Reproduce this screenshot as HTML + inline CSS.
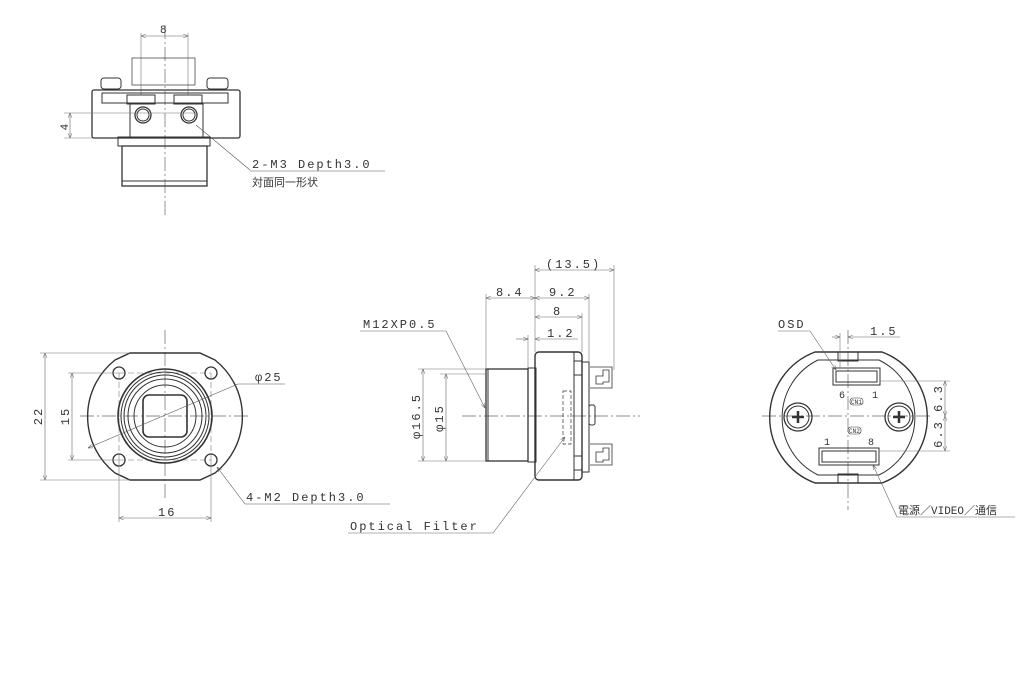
<!DOCTYPE html>
<html><head><meta charset="utf-8"><style>
html,body{margin:0;padding:0;background:#fff;}
svg{display:block}
text{font-family:"Liberation Mono","Noto Sans CJK JP",monospace;fill:#333;font-size:12px;letter-spacing:2px}
</style></head><body>
<svg width="1030" height="700" viewBox="0 0 1030 700" xmlns="http://www.w3.org/2000/svg">
<defs>
<marker id="a" viewBox="0 0 10 10" refX="10" refY="5" markerWidth="8" markerHeight="8" orient="auto-start-reverse"><path d="M0,1 L10,5 L0,9" fill="none" stroke="#555" stroke-width="1"/></marker>
</defs>
<g fill="none" stroke="#333" stroke-width="1">
<!-- TOP VIEW -->
<g stroke="#666" stroke-width="0.7" stroke-dasharray="14,3,2,3"><line x1="165" y1="25" x2="165" y2="218"/></g>
<line x1="141" y1="33" x2="141" y2="95" stroke="#777" stroke-width="0.6"/>
<line x1="188" y1="33" x2="188" y2="95" stroke="#777" stroke-width="0.6"/>
<line x1="141" y1="36" x2="188" y2="36" stroke="#666" stroke-width="0.6" marker-start="url(#a)" marker-end="url(#a)"/>
<rect x="132" y="58" width="63" height="27" stroke-width="0.7"/>
<rect x="101" y="78" width="20" height="11" rx="3"/>
<rect x="207" y="78" width="21" height="11" rx="3"/>
<rect x="92" y="90" width="148" height="48" rx="2" stroke-width="1.3"/>
<rect x="102" y="93" width="126" height="10"/>
<rect x="127" y="95" width="28" height="9"/><rect x="174" y="95" width="28" height="9"/>
<line x1="130" y1="103" x2="130" y2="138"/><line x1="203" y1="103" x2="203" y2="138"/>
<circle cx="143" cy="115" r="8" stroke-width="1.3"/><circle cx="143" cy="115" r="6"/>
<circle cx="189" cy="115" r="8" stroke-width="1.3"/><circle cx="189" cy="115" r="6"/>
<line x1="64" y1="113" x2="196" y2="113" stroke="#777" stroke-width="0.6"/>
<line x1="64" y1="138" x2="92" y2="138" stroke="#777" stroke-width="0.6"/>
<line x1="70" y1="113" x2="70" y2="138" stroke="#666" stroke-width="0.6" marker-start="url(#a)" marker-end="url(#a)"/>
<text x="68" y="126" transform="rotate(-90 68 126)" text-anchor="middle" stroke="none" style="font-size:11px">4</text>
<rect x="118" y="137" width="92" height="9"/>
<rect x="122" y="146" width="85" height="40" stroke-width="1.3"/>
<line x1="122" y1="181" x2="207" y2="181"/>
<line x1="196" y1="125" x2="250" y2="170" stroke="#555" stroke-width="0.6"/>
<line x1="250" y1="171" x2="385" y2="171" stroke="#555" stroke-width="0.6"/>

<!-- FRONT VIEW -->
<g stroke="#666" stroke-width="0.7" stroke-dasharray="14,3,2,3">
<line x1="165" y1="330" x2="165" y2="500"/><line x1="80" y1="416" x2="250" y2="416"/></g>
<g stroke="#777" stroke-width="0.6" stroke-dasharray="6,3">
<line x1="119" y1="373" x2="119" y2="460"/><line x1="211" y1="373" x2="211" y2="460"/>
<line x1="119" y1="373" x2="211" y2="373"/><line x1="119" y1="460" x2="211" y2="460"/></g>
<path d="M130,353 L200,353 L215,360 A72 72 0 0 1 215 473 L200,480 L130,480 L115,473 A72 72 0 0 1 115 360 Z" stroke-width="1.4"/>
<circle cx="165" cy="416" r="47" stroke-width="1.6"/>
<circle cx="165" cy="416" r="44"/><circle cx="165" cy="416" r="41"/><circle cx="165" cy="416" r="37"/><circle cx="165" cy="416" r="31"/>
<rect x="143" y="395" width="44" height="42" rx="6" stroke-width="1.6"/>
<circle cx="119" cy="373" r="6" stroke-width="1.3"/><circle cx="211" cy="373" r="6" stroke-width="1.3"/>
<circle cx="119" cy="460" r="6" stroke-width="1.3"/><circle cx="211" cy="460" r="6" stroke-width="1.3"/>
<g stroke="#777" stroke-width="0.6">
<line x1="40" y1="353" x2="130" y2="353"/><line x1="40" y1="480" x2="130" y2="480"/>
<line x1="68" y1="373" x2="119" y2="373"/><line x1="68" y1="460" x2="119" y2="460"/>
<line x1="119" y1="460" x2="119" y2="522"/><line x1="211" y1="460" x2="211" y2="522"/></g>
<line x1="45" y1="353" x2="45" y2="480" stroke="#666" stroke-width="0.6" marker-start="url(#a)" marker-end="url(#a)"/>
<line x1="72" y1="373" x2="72" y2="460" stroke="#666" stroke-width="0.6" marker-start="url(#a)" marker-end="url(#a)"/>
<line x1="119" y1="518" x2="211" y2="518" stroke="#666" stroke-width="0.6" marker-start="url(#a)" marker-end="url(#a)"/>
<line x1="238" y1="384" x2="88" y2="448" stroke="#555" stroke-width="0.6" marker-end="url(#a)"/>
<line x1="238" y1="384" x2="285" y2="384" stroke="#555" stroke-width="0.6"/>
<line x1="245" y1="504" x2="217" y2="467" stroke="#555" stroke-width="0.6" marker-end="url(#a)"/>
<line x1="245" y1="504" x2="390" y2="504" stroke="#555" stroke-width="0.6"/>

<!-- SIDE VIEW -->
<line x1="462" y1="416" x2="640" y2="416" stroke="#666" stroke-width="0.7" stroke-dasharray="14,3,2,3"/>
<rect x="486" y="369" width="42" height="92" stroke-width="1.3"/>
<line x1="488" y1="369" x2="488" y2="461"/>
<rect x="528" y="368" width="8" height="94"/>
<rect x="535" y="352" width="47" height="128" rx="4" stroke-width="1.4"/>
<line x1="574" y1="352" x2="574" y2="480"/>
<rect x="574" y="361" width="8" height="14"/><rect x="574" y="456" width="8" height="14"/>
<rect x="582" y="362" width="7" height="110"/>
<rect x="589" y="405" width="6" height="20" rx="2"/>
<path d="M590,367 H612 V388 H590 M596,376 H603 V370 H609 V382 H603 V384 H596 Z" stroke-width="0.8"/>
<path d="M590,444 H612 V465 H590 M596,452 H603 V448 H609 V460 H603 V462 H596 Z" stroke-width="0.8"/>
<rect x="563" y="391" width="8" height="53" stroke-dasharray="4,2" stroke-width="0.7"/>
<g stroke="#777" stroke-width="0.6">
<line x1="486" y1="294" x2="486" y2="369"/><line x1="535" y1="265" x2="535" y2="352"/>
<line x1="589" y1="294" x2="589" y2="362"/><line x1="582" y1="313" x2="582" y2="352"/>
<line x1="614" y1="265" x2="614" y2="370"/><line x1="528" y1="335" x2="528" y2="368"/>
<line x1="418" y1="369" x2="486" y2="369"/><line x1="418" y1="461" x2="486" y2="461"/>
<line x1="440" y1="374" x2="486" y2="374"/></g>
<g stroke="#666" stroke-width="0.6">
<line x1="535" y1="270" x2="614" y2="270" marker-start="url(#a)" marker-end="url(#a)"/>
<line x1="486" y1="298" x2="535" y2="298" marker-start="url(#a)" marker-end="url(#a)"/>
<line x1="535" y1="298" x2="589" y2="298" marker-start="url(#a)" marker-end="url(#a)"/>
<line x1="535" y1="317" x2="582" y2="317" marker-start="url(#a)" marker-end="url(#a)"/>
<line x1="516" y1="339" x2="528" y2="339" marker-end="url(#a)"/>
<line x1="578" y1="339" x2="535" y2="339" marker-end="url(#a)"/>
<line x1="423" y1="369" x2="423" y2="461" marker-start="url(#a)" marker-end="url(#a)"/>
<line x1="446" y1="374" x2="446" y2="461" marker-start="url(#a)" marker-end="url(#a)"/>
<line x1="446" y1="331" x2="485" y2="408" marker-end="url(#a)"/>
<line x1="360" y1="331" x2="446" y2="331"/>
<line x1="493" y1="533" x2="565" y2="437" marker-end="url(#a)"/>
<line x1="348" y1="533" x2="493" y2="533"/></g>

<!-- REAR VIEW -->
<g stroke="#666" stroke-width="0.7" stroke-dasharray="14,3,2,3">
<line x1="848" y1="330" x2="848" y2="510"/><line x1="762" y1="416" x2="930" y2="416"/></g>
<path d="M815,352 L882,352 A70 70 0 0 1 882 483 L815,483 A70 70 0 0 1 815 352 Z" stroke-width="1.4"/>
<path d="M818,360 L879,360 A64 64 0 0 1 879 475 L818,475 A64 64 0 0 1 818 360 Z"/>
<rect x="838" y="352" width="20" height="9"/><rect x="838" y="474" width="20" height="9"/>
<circle cx="798" cy="417" r="14" stroke-width="1.3"/><circle cx="798" cy="417" r="11"/>
<circle cx="899" cy="417" r="14" stroke-width="1.3"/><circle cx="899" cy="417" r="11"/>
<path d="M792,417 h12 M798,411 v12 M893,417 h12 M899,411 v12" stroke-width="2.5"/>
<rect x="833" y="368" width="47" height="17"/><rect x="836" y="371" width="41" height="11"/>
<rect x="819" y="448" width="60" height="17"/><rect x="822" y="451" width="54" height="11"/>
<rect x="850" y="398" width="13" height="7" rx="3" stroke-width="0.6"/>
<rect x="848" y="427" width="13" height="7" rx="3" stroke-width="0.6"/>
<g stroke="#777" stroke-width="0.6">
<line x1="840" y1="333" x2="840" y2="368"/>
<line x1="880" y1="381" x2="950" y2="381"/><line x1="879" y1="451" x2="950" y2="451"/></g>
<g stroke="#666" stroke-width="0.6">
<line x1="832" y1="337" x2="840" y2="337" marker-end="url(#a)"/>
<line x1="900" y1="337" x2="848" y2="337" marker-end="url(#a)"/>
<line x1="945" y1="381" x2="945" y2="416" marker-start="url(#a)" marker-end="url(#a)"/>
<line x1="945" y1="416" x2="945" y2="451" marker-start="url(#a)" marker-end="url(#a)"/>
<line x1="778" y1="331" x2="810" y2="331"/>
<line x1="810" y1="331" x2="836" y2="370" marker-end="url(#a)"/>
<line x1="897" y1="517" x2="873" y2="465" marker-end="url(#a)"/>
<line x1="897" y1="517" x2="1015" y2="517"/></g>
</g>

<g stroke="none">
<text x="160" y="33" style="font-size:11px">8</text>
<text x="252" y="168">2-M3 Depth3.0</text>
<text x="252" y="186" style="font-size:11px;letter-spacing:0">対面同一形状</text>
<text x="255" y="381">φ25</text>
<text x="246" y="501">4-M2 Depth3.0</text>
<text x="158" y="516">16</text>
<text x="42" y="416" transform="rotate(-90 42 416)" text-anchor="middle">22</text>
<text x="69" y="416" transform="rotate(-90 69 416)" text-anchor="middle">15</text>
<text x="546" y="268">(13.5)</text>
<text x="496" y="296">8.4</text>
<text x="549" y="296">9.2</text>
<text x="553" y="315">8</text>
<text x="547" y="337">1.2</text>
<text x="363" y="328">M12XP0.5</text>
<text x="350" y="530">Optical Filter</text>
<text x="420" y="416" transform="rotate(-90 420 416)" text-anchor="middle">φ16.5</text>
<text x="443" y="418" transform="rotate(-90 443 418)" text-anchor="middle">φ15</text>
<text x="778" y="328">OSD</text>
<text x="870" y="335">1.5</text>
<text x="839" y="398" style="font-size:10px;letter-spacing:0">6</text>
<text x="872" y="398" style="font-size:10px;letter-spacing:0">1</text>
<text x="824" y="445" style="font-size:10px;letter-spacing:0">1</text>
<text x="868" y="445" style="font-size:10px;letter-spacing:0">8</text>
<text x="851" y="404" style="font-size:6px;letter-spacing:0">CN1</text>
<text x="849" y="433" style="font-size:6px;letter-spacing:0">CN2</text>
<text x="942" y="398" transform="rotate(-90 942 398)" text-anchor="middle">6.3</text>
<text x="942" y="434" transform="rotate(-90 942 434)" text-anchor="middle">6.3</text>
<text x="898" y="514" style="font-size:11px;letter-spacing:0">電源／VIDEO／通信</text>
</g>
</svg>
</body></html>
